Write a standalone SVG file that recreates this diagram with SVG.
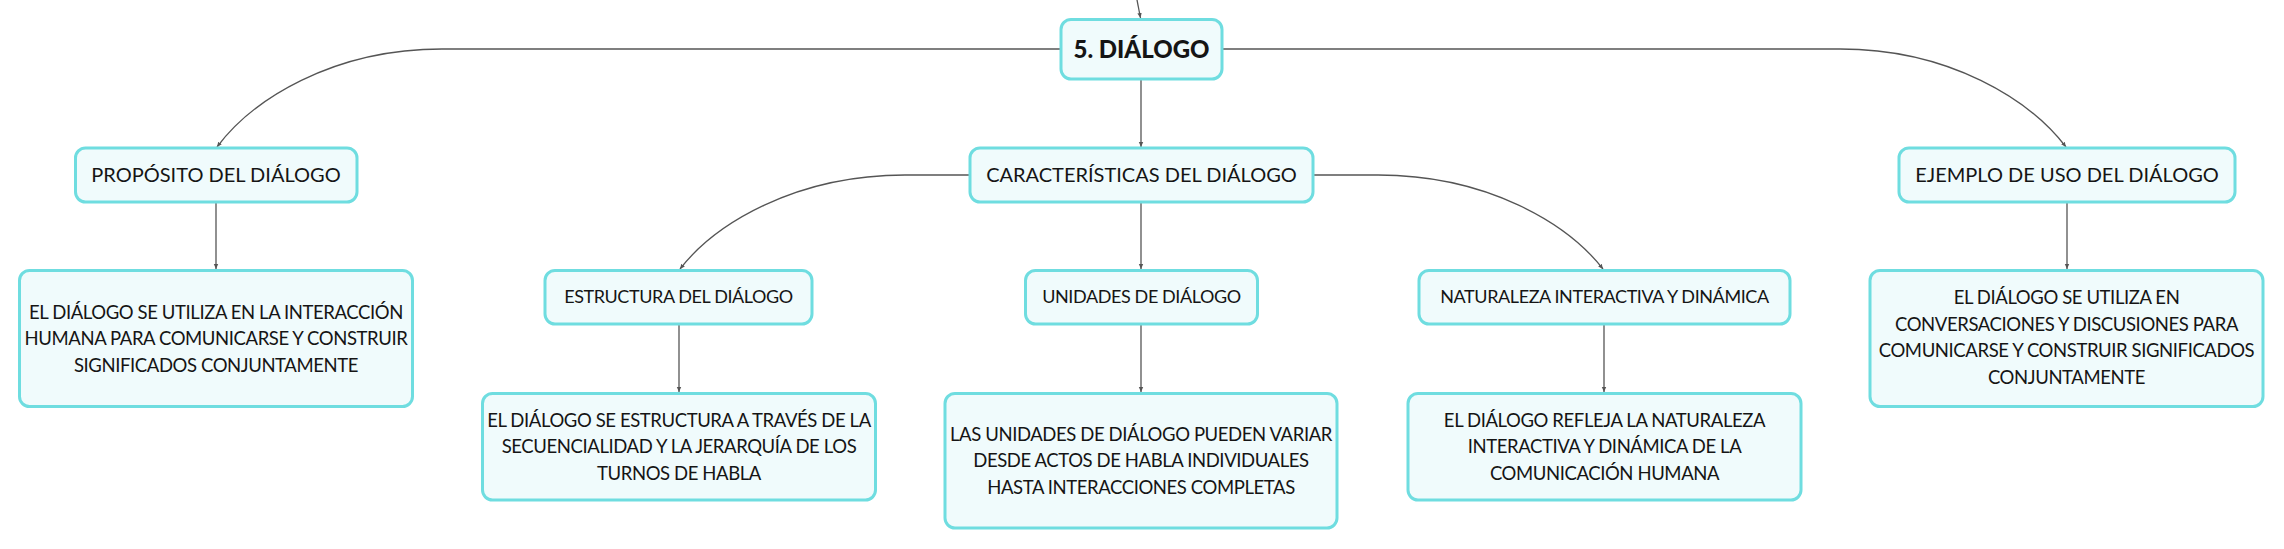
<svg xmlns="http://www.w3.org/2000/svg" width="2284" height="549" viewBox="0 0 2284 549">
<defs>
<marker id="ah" markerUnits="userSpaceOnUse" markerWidth="6" markerHeight="6" refX="5" refY="3" orient="auto">
<path d="M0,0.8 L5,3 L0,5.2 Z" fill="#555"/>
</marker>
<style>
.box{fill:#f0fbfc;stroke:#6fdde0;stroke-width:3}
.t{font-family:Lato,"Noto Sans","Liberation Sans",sans-serif;font-size:18.5px;letter-spacing:-0.4px;fill:#151515;text-anchor:middle}
.l1{font-size:20px;letter-spacing:0}
.l2{font-size:18px}
.root{font-weight:900;font-size:24px;letter-spacing:0}
.c{fill:none;stroke:#555;stroke-width:1.3;marker-end:url(#ah)}
</style>
</defs>
<g id="connectors">
<path class="c" d="M1137,0 L1140.5,18"/>
<path class="c" d="M1061,49 H442 C332,49 252,100 217,147"/>
<path class="c" d="M1222,49 H1840 C1950,49 2030,100 2066,147"/>
<path class="c" d="M1141,79 V147"/>
<path class="c" d="M970,175 H905 C795,175 715,224 680,269"/>
<path class="c" d="M1313,175 H1378 C1488,175 1568,224 1603,269"/>
<path class="c" d="M1141,202 V269"/>
<path class="c" d="M216,202 V269"/>
<path class="c" d="M2067,202 V269"/>
<path class="c" d="M679,324 V392"/>
<path class="c" d="M1141,324 V392"/>
<path class="c" d="M1604,324 V392"/>
</g>
<g id="root">
<rect class="box" x="1061" y="19.5" width="161" height="59.5" rx="10"/>
<text class="t root" x="1141.5" y="57.5">5. DIÁLOGO</text>
</g>
<g id="proposito">
<rect class="box" x="75.5" y="148" width="281.5" height="54" rx="10"/>
<text class="t l1" x="216" y="182">PROPÓSITO DEL DIÁLOGO</text>
</g>
<g id="caracteristicas">
<rect class="box" x="970" y="148" width="343" height="54" rx="10"/>
<text class="t l1" x="1141.5" y="182">CARACTERÍSTICAS DEL DIÁLOGO</text>
</g>
<g id="ejemplo">
<rect class="box" x="1899" y="148" width="336" height="54" rx="10"/>
<text class="t l1" x="2067" y="182">EJEMPLO DE USO DEL DIÁLOGO</text>
</g>
<g id="estructura">
<rect class="box" x="545" y="270.5" width="267" height="53.5" rx="10"/>
<text class="t l2" x="678.5" y="303">ESTRUCTURA DEL DIÁLOGO</text>
</g>
<g id="unidades">
<rect class="box" x="1025.5" y="270.5" width="232" height="53.5" rx="10"/>
<text class="t l2" x="1141.5" y="303">UNIDADES DE DIÁLOGO</text>
</g>
<g id="naturaleza">
<rect class="box" x="1419" y="270.5" width="371" height="53.5" rx="10"/>
<text class="t l2" x="1604.5" y="303">NATURALEZA INTERACTIVA Y DINÁMICA</text>
</g>
<g id="proposito-detalle">
<rect class="box" x="19.5" y="270.5" width="393" height="136" rx="10"/>
<text class="t" x="216" y="318.5">EL DIÁLOGO SE UTILIZA EN LA INTERACCIÓN</text>
<text class="t" x="216" y="345">HUMANA PARA COMUNICARSE Y CONSTRUIR</text>
<text class="t" x="216" y="371.5">SIGNIFICADOS CONJUNTAMENTE</text>
</g>
<g id="estructura-detalle">
<rect class="box" x="482.5" y="393.5" width="393" height="106.5" rx="10"/>
<text class="t" x="679" y="426.5">EL DIÁLOGO SE ESTRUCTURA A TRAVÉS DE LA</text>
<text class="t" x="679" y="453">SECUENCIALIDAD Y LA JERARQUÍA DE LOS</text>
<text class="t" x="679" y="479.5">TURNOS DE HABLA</text>
</g>
<g id="unidades-detalle">
<rect class="box" x="945" y="393.5" width="392" height="134.5" rx="10"/>
<text class="t" x="1141" y="440.5">LAS UNIDADES DE DIÁLOGO PUEDEN VARIAR</text>
<text class="t" x="1141" y="467">DESDE ACTOS DE HABLA INDIVIDUALES</text>
<text class="t" x="1141" y="493.5">HASTA INTERACCIONES COMPLETAS</text>
</g>
<g id="naturaleza-detalle">
<rect class="box" x="1408" y="393.5" width="393" height="106.5" rx="10"/>
<text class="t" x="1604.5" y="426.5">EL DIÁLOGO REFLEJA LA NATURALEZA</text>
<text class="t" x="1604.5" y="453">INTERACTIVA Y DINÁMICA DE LA</text>
<text class="t" x="1604.5" y="479.5">COMUNICACIÓN HUMANA</text>
</g>
<g id="ejemplo-detalle">
<rect class="box" x="1870" y="270.5" width="393" height="136" rx="10"/>
<text class="t" x="2066.5" y="304">EL DIÁLOGO SE UTILIZA EN</text>
<text class="t" x="2066.5" y="330.5">CONVERSACIONES Y DISCUSIONES PARA</text>
<text class="t" x="2066.5" y="357">COMUNICARSE Y CONSTRUIR SIGNIFICADOS</text>
<text class="t" x="2066.5" y="383.5">CONJUNTAMENTE</text>
</g>
</svg>
